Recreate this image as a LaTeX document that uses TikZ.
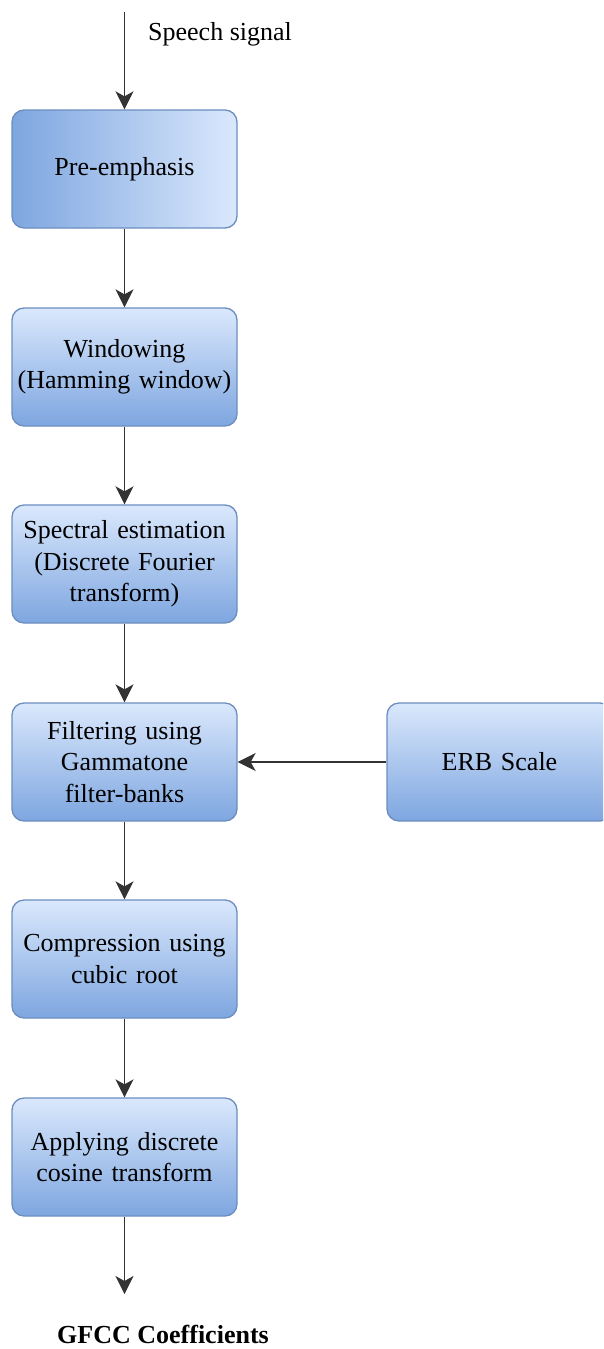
\documentclass[tikz,border=0pt]{standalone}
\usepackage{fontspec}
\setmainfont{Liberation Serif}
\usetikzlibrary{arrows.meta}
\definecolor{boxedge}{HTML}{6C8EBF}
\definecolor{boxlight}{HTML}{DAE8FC}
\definecolor{boxdark}{HTML}{7EA6E0}
\definecolor{linegray}{HTML}{333333}
\begin{document}
\begin{tikzpicture}[x=1pt,y=-1pt,
  every node/.style={font=\fontsize{26}{31.5}\selectfont},
  basebox/.style={draw=boxedge, line width=1.3pt, rounded corners=12pt,
    minimum width=225pt, minimum height=118pt, inner sep=0pt,
    text width=215pt, align=center},
  stepbox/.style={basebox, top color=boxlight, bottom color=boxdark},
  sidebox/.style={basebox, left color=boxdark, right color=boxlight},
  flow/.style={draw=linegray, line width=1.7pt,
    -{Stealth[length=18pt,width=18pt,inset=5pt]}}]
\useasboundingbox (0,0) rectangle (603,1349);
\clip (0,0) rectangle (603,1349);

% processing chain
\node[sidebox] (pre) at (124.5,169) {Pre-emphasis};
\node[stepbox] (win) at (124.5,367) {Windowing\\(Hamming window)};
\node[stepbox] (spec) at (124.5,564) {Spectral estimation\\(Discrete Fourier\\transform)};
\node[stepbox] (filt) at (124.5,762) {Filtering using\\Gammatone\\filter-banks};
\node[stepbox] (comp) at (124.5,959) {Compression using\\cubic root};
\node[stepbox] (dct) at (124.5,1157) {Applying discrete\\cosine transform};
\node[stepbox] (erb) at (499.5,762) {ERB Scale};

% input and output
\coordinate (in) at (124.5,12);
\coordinate (out) at (124.5,1294);
\node[anchor=west, inner sep=0pt] (sig) at (148,34) {Speech signal};
\node[inner sep=0pt, font=\fontsize{26}{31.5}\selectfont\bfseries] (gfcc) at (163,1334) {GFCC Coefficients};

% connectors
\draw[flow] (in) -- (pre.north);
\draw[flow] (pre) -- (win);
\draw[flow] (win) -- (spec);
\draw[flow] (spec) -- (filt);
\draw[flow] (filt) -- (comp);
\draw[flow] (comp) -- (dct);
\draw[flow] (dct) -- (out);
\draw[flow] (erb) -- (filt);
\end{tikzpicture}
\end{document}
